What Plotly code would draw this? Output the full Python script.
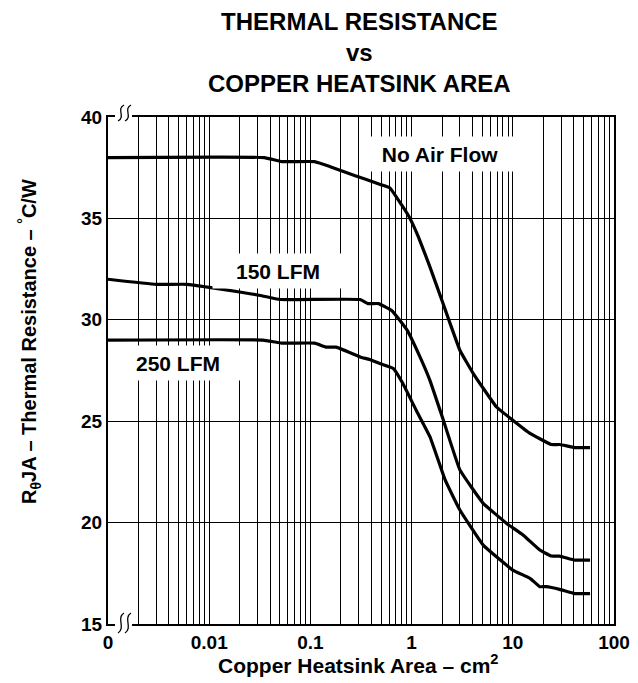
import plotly.graph_objects as go

# ---------------- data ----------------
area_no_air = [0.001, 0.035, 0.052, 0.11, 0.157, 0.277, 0.419, 0.49, 0.61, 0.80, 0.964, 1.17,
               1.52, 1.98, 3.0, 4.07, 6.9, 10, 14.8, 24, 29, 41, 58]
rth_no_air = [38.0, 38.0, 37.8, 37.8, 37.55, 37.1, 36.8, 36.67, 36.5, 35.65, 35.0, 34.08,
              32.6, 31.0, 28.5, 27.35, 25.7, 25.05, 24.4, 23.85, 23.85, 23.7, 23.7]

area_150 = [0.001, 0.003, 0.006, 0.01, 0.02, 0.032, 0.05, 0.31, 0.37, 0.47, 0.64, 0.9,
            1.21, 1.52, 2.06, 3.0, 5.1, 8.7, 12.7, 18.5, 24, 29, 41, 58]
rth_150 = [32.0, 31.75, 31.75, 31.6, 31.37, 31.2, 31.0, 31.0, 30.8, 30.8, 30.45, 29.5,
           28.17, 27.0, 25.05, 22.6, 20.95, 19.96, 19.38, 18.65, 18.35, 18.35, 18.15, 18.15]

area_250 = [0.001, 0.034, 0.052, 0.11, 0.144, 0.18, 0.31, 0.385, 0.485, 0.66, 0.82, 1.11,
            1.52, 2.15, 3.0, 5.1, 10, 14.8, 18.5, 21.3, 29, 41, 58]
rth_250 = [29.0, 29.0, 28.85, 28.85, 28.65, 28.65, 28.17, 28.04, 27.84, 27.6, 26.86, 25.54,
           24.23, 22.09, 20.62, 18.89, 17.66, 17.25, 16.84, 16.84, 16.71, 16.5, 16.5]

series_names = ["No Air Flow", "150 LFM", "250 LFM"]

x_grid_vals = [m * 10 ** e for e in range(-3, 2) for m in range(1, 10)] + [100]
x_label_map = {0.001: "0", 0.01: "0.01", 0.1: "0.1", 1: "1", 10: "10", 100: "100"}
x_tick_text = [x_label_map.get(round(v, 6), " ") for v in x_grid_vals]
y_tick_vals = [15, 20, 25, 30, 35, 40]

# ---------------- layout geometry ----------------
W, H = 638, 683
L, R, T, B = 108, 24, 117, 59
PW, PH = W - L - R, H - T - B


def px(x):
    return (x - L) / PW


def py(y):
    return (H - B - y) / PH


FONT = "Liberation Sans, Arial, Helvetica, sans-serif"

fig = go.Figure()
for xs, ys, nm in [(area_no_air, rth_no_air, series_names[0]),
                   (area_150, rth_150, series_names[1]),
                   (area_250, rth_250, series_names[2])]:
    fig.add_trace(go.Scatter(x=xs, y=ys, mode="lines", name=nm,
                             line=dict(color="black", width=3.2, shape="spline", smoothing=0.3),
                             showlegend=False, hoverinfo="skip"))

fig.update_layout(
    width=W, height=H,
    margin=dict(l=L, r=R, t=T, b=B, autoexpand=False),
    paper_bgcolor="white", plot_bgcolor="white",
    font=dict(family=FONT, color="black"),
    showlegend=False,
)
fig.update_xaxes(type="log", range=[-3, 2], tickvals=x_grid_vals, ticktext=x_tick_text,
                 showgrid=True, gridcolor="black", gridwidth=1,
                 showline=True, linecolor="black", linewidth=2.2, mirror=True,
                 ticks="", ticklabelstandoff=0, automargin=False, tickangle=0,
                 tickfont=dict(size=19, family=FONT, weight="bold"), zeroline=False)
fig.update_yaxes(range=[15, 40], tickvals=y_tick_vals,
                 showgrid=True, gridcolor="black", gridwidth=1,
                 showline=True, linecolor="black", linewidth=2.2, mirror=True,
                 ticks="", ticklabelstandoff=0, automargin=False,
                 tickfont=dict(size=19, family=FONT, weight="bold"), zeroline=False)

# axis-break marks
shapes = []
for ytop, ybot, yline in [(105, 121, 117), (613, 633, 624)]:
    shapes.append(dict(type="rect", xref="paper", yref="paper",
                       x0=px(115), x1=px(132), y0=py(yline + 3), y1=py(yline - 3),
                       fillcolor="white", line=dict(width=0), layer="above"))
    for cx in (121, 128):
        path = "M {:.5f} {:.5f} C {:.5f} {:.5f} {:.5f} {:.5f} {:.5f} {:.5f}".format(
            px(cx + 3), py(ytop),
            px(cx - 5), py(ytop + (ybot - ytop) * 0.25),
            px(cx + 5), py(ytop + (ybot - ytop) * 0.75),
            px(cx - 3), py(ybot))
        shapes.append(dict(type="path", xref="paper", yref="paper", path=path,
                           line=dict(color="black", width=1.3), layer="above"))
fig.update_layout(shapes=shapes)

ann = []
# curve labels with white boxes
for text, cx, cy, w in [("No Air Flow", 440, 154, 154), ("150 LFM", 278, 271, 128), ("250 LFM", 178, 362.5, 128)]:
    ann.append(dict(text="<b>" + text + "</b>", xref="paper", yref="paper", x=px(cx), y=py(cy),
                    xanchor="center", yanchor="middle", showarrow=False,
                    width=w, height=32, bgcolor="white", borderpad=1,
                    font=dict(size=21, family=FONT, color="black")))
# title
ann.append(dict(text="<b>THERMAL RESISTANCE<br>vs<br>COPPER HEATSINK AREA</b>",
                xref="paper", yref="paper", x=px(359), y=py(52), xanchor="center", yanchor="middle",
                showarrow=False, font=dict(size=24, family=FONT, color="black")))
# axis titles
ann.append(dict(text="<b>Copper Heatsink Area – cm<sup>2</sup></b>",
                xref="paper", yref="paper", x=px(358), y=py(664), xanchor="center", yanchor="middle",
                showarrow=False, font=dict(size=21, family=FONT, color="black")))
ann.append(dict(text="<b>R<sub>θ</sub>JA – Thermal Resistance – <sup>°</sup>C/W</b>",
                xref="paper", yref="paper", x=px(29), y=py(342), xanchor="center", yanchor="middle",
                textangle=-90, showarrow=False, font=dict(size=20, family=FONT, color="black")))
fig.update_layout(annotations=ann)

fig.write_html("out.html", config={"displayModeBar": False},
               post_script="document.body.style.margin='0px';")
